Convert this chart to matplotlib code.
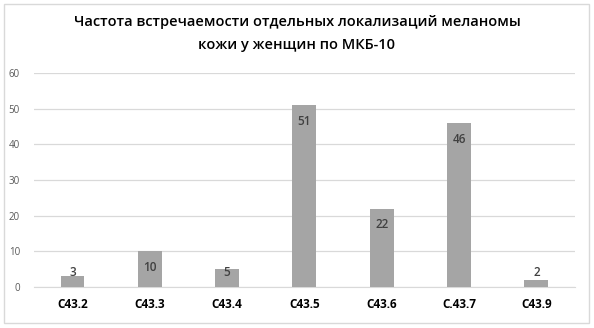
import matplotlib.pyplot as plt
from matplotlib.patches import Rectangle

categories = ['C43.2', 'C43.3', 'C43.4', 'C43.5', 'C43.6', 'C.43.7', 'C43.9']
counts = [3, 10, 5, 51, 22, 46, 2]
yticks = [0, 10, 20, 30, 40, 50, 60]

plt.rcParams['font.family'] = ['Open Sans', 'DejaVu Sans']

fig = plt.figure(figsize=(5.94, 3.28), dpi=100)
ax = fig.add_axes([0.057, 0.125, 0.911, 0.652])

x = range(len(categories))
ax.bar(x, counts, width=0.31, color='#a5a5a5', zorder=3)
ax.set_xlim(-0.5, len(categories) - 0.5)
ax.set_ylim(0, 60)
ax.set_yticks(yticks)
ax.set_xticks(list(x))
ax.set_xticklabels(categories, fontsize=8.5, fontweight='bold', color='#000000')
ax.tick_params(axis='y', labelsize=7, colors='#595959', length=0, pad=10)
ax.tick_params(axis='x', length=0, pad=8)
ax.grid(axis='y', color='#d9d9d9', linewidth=0.9, zorder=0)
for s in ['top', 'right', 'left']:
    ax.spines[s].set_visible(False)
ax.spines['bottom'].set_color('#d9d9d9')

for i, v in enumerate(counts):
    ax.text(i, max(v - 4.5, 4.0), str(v), ha='center', va='center',
            fontsize=8.5, color='#404040', fontweight='semibold', zorder=4)

fig.text(0.5, 0.898, 'Частота встречаемости отдельных локализаций меланомы\nкожи у женщин по МКБ-10',
         ha='center', va='center', fontsize=10.5, linespacing=1.75,
         fontweight='semibold', color='#000000')

fig.patches.append(Rectangle((0.006, 0.015), 0.986, 0.972, transform=fig.transFigure,
                             fill=False, edgecolor='#d9d9d9', linewidth=1))

fig.savefig('out.png', dpi=100)
